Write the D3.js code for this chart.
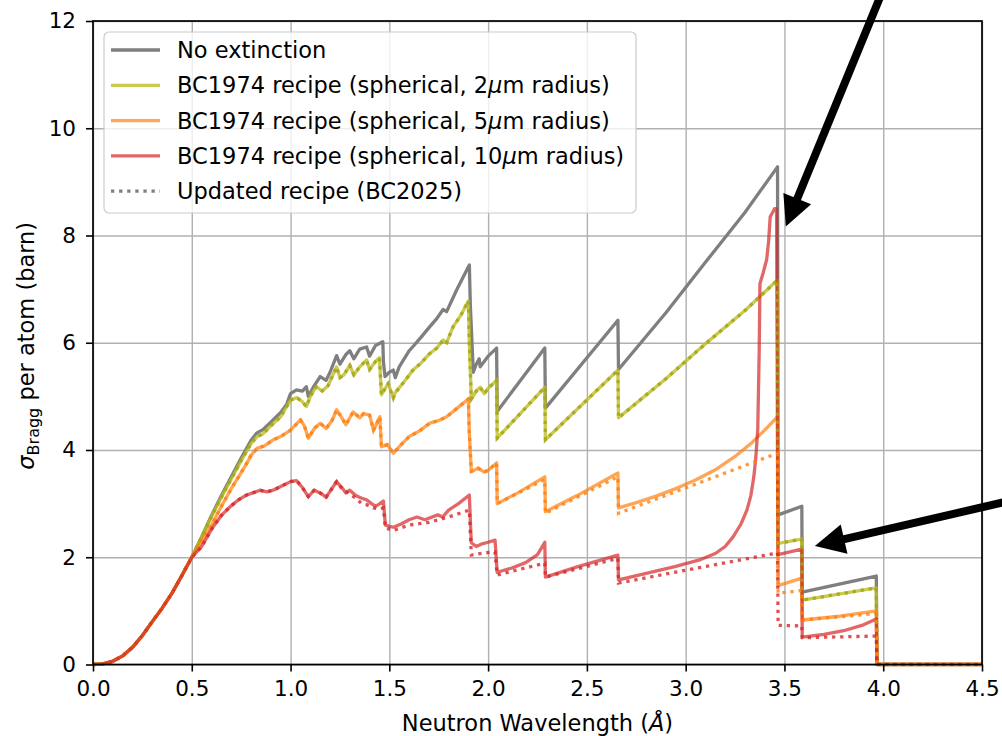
<!DOCTYPE html>
<html>
<head>
<meta charset="utf-8">
<script src="https://cdn.jsdelivr.net/npm/d3@7"></script>
<style>
  body { margin: 0; background: #fff; }
  text { font-family: "DejaVu Sans", sans-serif; fill: #000; }
</style>
</head>
<body>
<div id="chart"></div>
<script>
// values: [wavelength (Å), sigma (barn)]
const xTicks = [0, 0.5, 1.0, 1.5, 2.0, 2.5, 3.0, 3.5, 4.0, 4.5];
const yTicks = [0, 2, 4, 6, 8, 10, 12];

// all curves coincide below 0.5 Å
const sharedRise = [[0,0],[0.05,0.01],[0.1,0.06],[0.15,0.16],[0.2,0.32],[0.25,0.54],[0.3,0.8],[0.35,1.05],[0.4,1.33],[0.45,1.66],[0.5,2.0]];

const noExtinction = sharedRise.concat([
  [0.55,2.38],[0.6,2.78],[0.65,3.15],[0.7,3.5],[0.75,3.85],[0.8,4.18],[0.83,4.32],[0.86,4.38],[0.9,4.52],[0.95,4.7],
  [0.98,4.85],[1.0,5.05],[1.03,5.12],[1.06,5.1],[1.08,5.18],[1.09,5.0],[1.12,5.2],[1.15,5.37],[1.18,5.3],[1.2,5.45],
  [1.233,5.76],[1.25,5.6],[1.28,5.78],[1.3,5.85],[1.32,5.7],[1.35,5.88],[1.385,5.92],[1.4,5.75],[1.43,5.95],[1.452,5.99],
  [1.467,6.02],[1.47,5.65],[1.478,5.37],[1.5,5.45],[1.52,5.49],[1.53,5.35],[1.55,5.55],[1.6,5.85],[1.62,5.93],[1.66,6.1],
  [1.705,6.3],[1.74,6.45],[1.772,6.62],[1.79,6.58],[1.84,6.98],[1.87,7.2],[1.905,7.45],[1.91,6.7],[1.925,5.45],[1.94,5.6],
  [1.955,5.7],[1.96,5.55],[2.0,5.75],[2.043,5.9],[2.046,4.72],[2.287,5.9],[2.29,4.78],[2.657,6.42],[2.66,5.5],[2.9,6.56],
  [3.1,7.5],[3.3,8.43],[3.465,9.28],[3.468,2.79],[3.588,2.95],[3.59,1.35],[3.965,1.65],[3.968,0],[4.5,0]
]);

const bc1974_2um = sharedRise.concat([
  [0.55,2.38],[0.6,2.76],[0.65,3.12],[0.7,3.46],[0.75,3.8],[0.8,4.12],[0.83,4.25],[0.86,4.3],[0.9,4.45],[0.95,4.62],
  [1.0,4.93],[1.03,4.98],[1.06,4.9],[1.08,4.81],[1.1,5.0],[1.13,5.18],[1.16,5.1],[1.19,5.2],[1.233,5.55],[1.25,5.35],
  [1.27,5.4],[1.3,5.58],[1.32,5.4],[1.35,5.55],[1.385,5.68],[1.4,5.5],[1.43,5.65],[1.45,5.72],[1.46,5.03],[1.494,5.24],
  [1.52,4.97],[1.528,5.06],[1.57,5.25],[1.62,5.49],[1.66,5.62],[1.705,5.8],[1.74,5.9],[1.772,6.05],[1.79,6.0],[1.823,6.3],
  [1.86,6.5],[1.9,6.78],[1.905,6.0],[1.915,4.95],[1.94,5.1],[1.96,5.17],[1.98,5.05],[2.0,5.15],[2.043,5.3],[2.046,4.22],
  [2.287,5.17],[2.29,4.19],[2.657,5.49],[2.66,4.6],[2.9,5.33],[3.1,5.98],[3.3,6.6],[3.465,7.17],[3.468,2.26],[3.588,2.34],
  [3.59,1.2],[3.965,1.43],[3.968,0],[4.5,0]
]);

const bc1974_5um = sharedRise.concat([
  [0.55,2.3],[0.6,2.6],[0.65,2.95],[0.7,3.28],[0.75,3.58],[0.778,3.75],[0.8,3.9],[0.83,4.03],[0.87,4.08],[0.912,4.19],
  [0.95,4.25],[1.0,4.37],[1.05,4.56],[1.07,4.45],[1.09,4.22],[1.12,4.4],[1.15,4.5],[1.18,4.4],[1.21,4.55],[1.233,4.75],
  [1.26,4.6],[1.28,4.47],[1.317,4.71],[1.35,4.6],[1.37,4.68],[1.4,4.65],[1.42,4.37],[1.452,4.62],[1.46,4.06],[1.49,4.1],
  [1.52,3.94],[1.528,3.97],[1.56,4.1],[1.6,4.25],[1.65,4.35],[1.705,4.5],[1.75,4.55],[1.79,4.62],[1.85,4.8],[1.9,4.95],
  [1.905,4.3],[1.915,3.6],[1.95,3.66],[1.98,3.59],[2.0,3.62],[2.043,3.76],[2.046,3.0],[2.15,3.2],[2.287,3.5],[2.29,2.85],
  [2.45,3.15],[2.657,3.57],[2.66,2.92],[2.75,3.02],[2.85,3.14],[2.95,3.28],[3.05,3.44],[3.15,3.63],[3.25,3.88],[3.33,4.12],
  [3.4,4.37],[3.465,4.62],[3.468,1.47],[3.588,1.61],[3.59,0.83],[3.78,0.9],[3.965,1.0],[3.968,0],[4.5,0]
]);

const bc1974_10um = sharedRise.concat([
  [0.55,2.2],[0.608,2.57],[0.65,2.78],[0.693,2.94],[0.74,3.08],[0.778,3.16],[0.845,3.25],[0.88,3.22],[0.912,3.25],[0.95,3.32],
  [1.0,3.41],[1.03,3.43],[1.06,3.3],[1.09,3.13],[1.12,3.25],[1.15,3.2],[1.18,3.12],[1.233,3.41],[1.26,3.3],[1.28,3.2],
  [1.3,3.25],[1.33,3.15],[1.36,3.1],[1.385,3.07],[1.41,3.0],[1.43,2.95],[1.452,3.0],[1.47,3.05],[1.48,2.6],[1.52,2.56],
  [1.56,2.62],[1.6,2.7],[1.64,2.75],[1.68,2.7],[1.745,2.79],[1.77,2.75],[1.8,2.88],[1.85,3.0],[1.905,3.16],[1.91,2.7],
  [1.915,2.27],[1.94,2.2],[1.97,2.25],[2.0,2.28],[2.035,2.32],[2.046,1.72],[2.12,1.8],[2.19,1.9],[2.25,2.05],[2.287,2.28],
  [2.29,1.63],[2.45,1.82],[2.657,2.04],[2.66,1.58],[2.8,1.7],[2.95,1.83],[3.07,1.95],[3.15,2.07],[3.2,2.2],[3.24,2.38],
  [3.28,2.62],[3.31,2.88],[3.33,3.15],[3.345,3.5],[3.355,3.85],[3.365,4.4],[3.372,5.8],[3.376,7.1],[3.392,7.3],[3.41,7.55],
  [3.42,7.9],[3.428,8.35],[3.45,8.5],[3.46,8.5],[3.467,2.05],[3.588,2.15],[3.59,0.51],[3.7,0.56],[3.8,0.63],[3.9,0.74],
  [3.965,0.85],[3.968,0],[4.5,0]
]);

// updated recipe (BC2025): identical to BC1974 for 2 µm, diverges for larger grains
const bc2025_2um = bc1974_2um;
const bc2025_5umTail = [
  [2.287,3.45],[2.29,2.82],[2.657,3.5],[2.66,2.82],[3.465,3.94],[3.468,1.33],[3.588,1.38],[3.59,0.83],[3.965,0.95],[3.968,0],[4.5,0]
];
const bc2025_10umTail = [
  [1.26,3.28],[1.3,3.18],[1.33,3.1],[1.36,3.0],[1.385,2.98],[1.42,2.92],[1.452,2.9],[1.47,2.92],[1.48,2.55],[1.52,2.5],
  [1.6,2.6],[1.7,2.65],[1.8,2.75],[1.905,2.88],[1.915,2.04],[1.98,2.08],[2.035,2.1],[2.046,1.67],[2.287,1.89],[2.29,1.63],
  [2.657,1.98],[2.66,1.52],[3.465,2.08],[3.468,0.73],[3.588,0.72],[3.59,0.5],[3.965,0.53],[3.968,0],[4.5,0]
];
const bc2025_5um = bc1974_5um.filter(d => d[0] <= 2.046).concat(bc2025_5umTail);
const bc2025_10um = bc1974_10um.filter(d => d[0] <= 1.233).concat(bc2025_10umTail);

const legendLabels = [
  "No extinction",
  "BC1974 recipe (spherical, 2|μ|m radius)",
  "BC1974 recipe (spherical, 5|μ|m radius)",
  "BC1974 recipe (spherical, 10|μ|m radius)",
  "Updated recipe (BC2025)"
];

// arrow annotations: [tail, tip] in data units
const arrows = [
  [[3.99, 12.5], [3.507, 8.17]],
  [[4.65, 3.06], [3.654, 2.21]]
];

const W = 1002, H = 736;
const margin = { left: 93, top: 21, right: 20, bottom: 71.5 };
const iw = W - margin.left - margin.right;
const ih = H - margin.top - margin.bottom;

const svg = d3.select("#chart").append("svg")
  .attr("width", W).attr("height", H);

const x = d3.scaleLinear().domain([0, 4.5]).range([0, iw]);
const y = d3.scaleLinear().domain([0, 12]).range([ih, 0]);

svg.append("defs").append("clipPath").attr("id", "clip")
  .append("rect").attr("x", 0).attr("y", -2).attr("width", iw).attr("height", ih + 4);

const g = svg.append("g").attr("transform", `translate(${margin.left},${margin.top})`);

// grid
g.append("g").attr("class", "grid")
  .attr("transform", `translate(0,${ih})`)
  .call(d3.axisBottom(x).tickValues(xTicks).tickSize(-ih).tickFormat(""))
  .call(s => s.select(".domain").remove());
g.append("g").attr("class", "grid")
  .call(d3.axisLeft(y).tickValues(yTicks).tickSize(-iw).tickFormat(""))
  .call(s => s.select(".domain").remove());
g.selectAll(".grid line").attr("stroke", "#b0b0b0").attr("stroke-width", 1.4);

const line = d3.line().x(d => x(d[0])).y(d => y(d[1]));

const solids = [
  { data: noExtinction, color: "#7f7f7f", op: 1 },
  { data: bc1974_2um, color: "#bcbd22", op: 0.8 },
  { data: bc1974_5um, color: "#ff7f0e", op: 0.7 },
  { data: bc1974_10um, color: "#d62728", op: 0.7 }
];
const dotted = [
  { data: bc2025_2um, color: "#a5a61a", op: 0.85 },
  { data: bc2025_5um, color: "#ff7f0e", op: 0.8 },
  { data: bc2025_10um, color: "#d62728", op: 0.8 }
];

const plot = g.append("g").attr("clip-path", "url(#clip)");
solids.forEach(s => {
  plot.append("path").datum(s.data)
    .attr("d", line)
    .attr("fill", "none")
    .attr("stroke", s.color)
    .attr("stroke-opacity", s.op)
    .attr("stroke-width", 3.3)
    .attr("stroke-linejoin", "round");
});
dotted.forEach(s => {
  plot.append("path").datum(s.data)
    .attr("d", line)
    .attr("fill", "none")
    .attr("stroke", s.color)
    .attr("stroke-opacity", s.op)
    .attr("stroke-width", 3.3)
    .attr("stroke-dasharray", "3.3,4.8");
});

// axes
const xAxis = g.append("g").attr("transform", `translate(0,${ih})`)
  .call(d3.axisBottom(x).tickValues(xTicks).tickSize(7).tickPadding(9).tickFormat(d3.format(".1f")));
const yAxis = g.append("g")
  .call(d3.axisLeft(y).tickValues(yTicks).tickSize(7).tickPadding(10).tickFormat(d3.format("d")));
[xAxis, yAxis].forEach(a => {
  a.select(".domain").remove();
  a.selectAll("line").attr("stroke", "#000").attr("stroke-width", 1.6);
  a.selectAll("text").attr("font-size", 21.5).attr("font-family", "DejaVu Sans").attr("fill", "#000");
});

g.append("rect").attr("width", iw).attr("height", ih)
  .attr("fill", "none").attr("stroke", "#000").attr("stroke-width", 1.7);

// axis labels
const xl = svg.append("text")
  .attr("x", margin.left + iw / 2).attr("y", 731)
  .attr("text-anchor", "middle").attr("font-size", 22.5);
xl.append("tspan").text("Neutron Wavelength (");
xl.append("tspan").attr("font-style", "italic").text("Å");
xl.append("tspan").text(")");

const yl = svg.append("text")
  .attr("transform", `translate(34,${margin.top + ih / 2 + 3}) rotate(-90)`)
  .attr("text-anchor", "middle").attr("font-size", 22.5);
yl.append("tspan").attr("font-style", "italic").text("σ");
yl.append("tspan").attr("font-size", 16).attr("dy", 5).text("Bragg");
yl.append("tspan").attr("dy", -5).text(" per atom (barn)");

// legend
const lg = svg.append("g").attr("transform", "translate(104,32)");
lg.append("rect").attr("width", 532).attr("height", 181).attr("rx", 5)
  .attr("fill", "#fff").attr("fill-opacity", 0.8)
  .attr("stroke", "#cccccc").attr("stroke-width", 1.2);
const legendStyles = [
  { color: "#7f7f7f", op: 1, dash: null },
  { color: "#bcbd22", op: 0.8, dash: null },
  { color: "#ff7f0e", op: 0.7, dash: null },
  { color: "#d62728", op: 0.7, dash: null },
  { color: "#7f7f7f", op: 1, dash: "3.3,4.8" }
];
legendLabels.forEach((lab, i) => {
  const cy = 18 + i * 35.3;
  const st = legendStyles[i];
  lg.append("line").attr("x1", 7).attr("x2", 56).attr("y1", cy).attr("y2", cy)
    .attr("stroke", st.color).attr("stroke-opacity", st.op)
    .attr("stroke-width", 3.3).attr("stroke-dasharray", st.dash);
  const t = lg.append("text").attr("x", 73).attr("y", cy + 8).attr("font-size", 22.5);
  lab.split("|").forEach((part, j) => {
    t.append("tspan").attr("font-style", j === 1 ? "italic" : null).text(part);
  });
});

// arrows
arrows.forEach(([tail, tip]) => {
  const x0 = margin.left + x(tail[0]), y0 = margin.top + y(tail[1]);
  const x1 = margin.left + x(tip[0]), y1 = margin.top + y(tip[1]);
  const len = Math.hypot(x1 - x0, y1 - y0);
  const ux = (x1 - x0) / len, uy = (y1 - y0) / len;
  const hl = 30, hw = 15;
  const bx = x1 - ux * hl, by = y1 - uy * hl;
  svg.append("line").attr("x1", x0).attr("y1", y0).attr("x2", bx + ux * 2).attr("y2", by + uy * 2)
    .attr("stroke", "#000").attr("stroke-width", 8);
  svg.append("path")
    .attr("d", `M${x1},${y1}L${bx - uy * hw},${by + ux * hw}L${bx + uy * hw},${by - ux * hw}Z`)
    .attr("fill", "#000");
});
</script>
</body>
</html>
